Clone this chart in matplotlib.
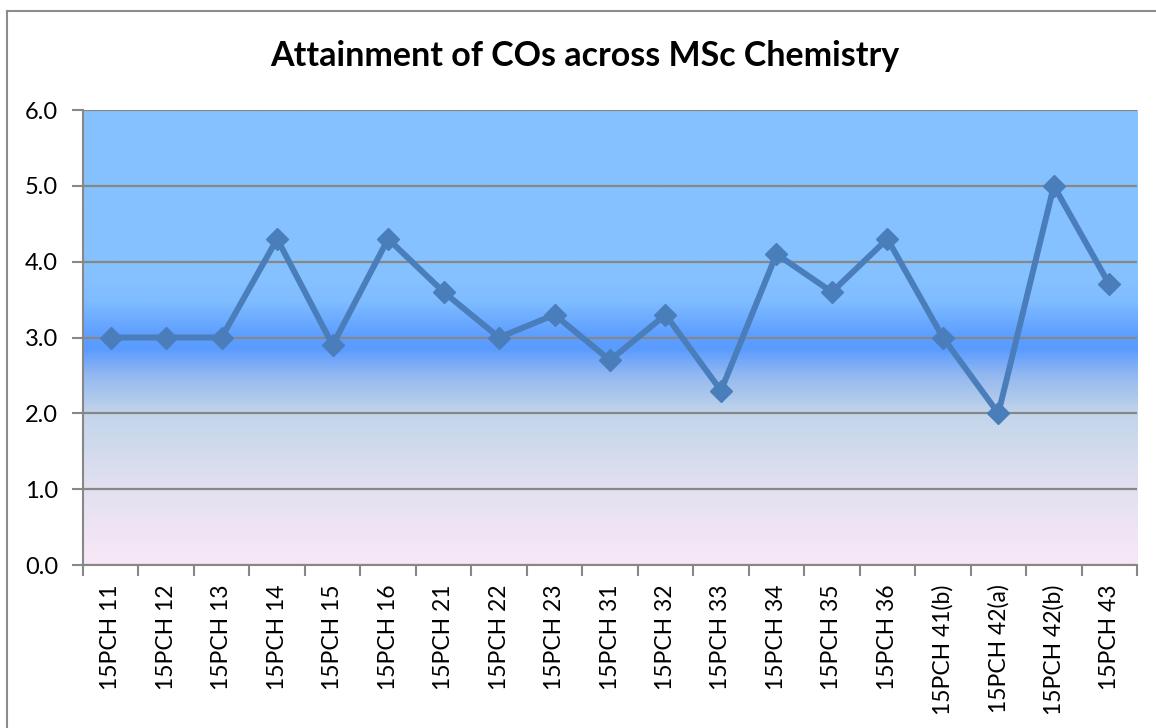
import numpy as np
import matplotlib
matplotlib.use("Agg")
import matplotlib.pyplot as plt
from matplotlib.colors import LinearSegmentedColormap
from matplotlib.lines import Line2D

categories = ["15PCH 11", "15PCH 12", "15PCH 13", "15PCH 14", "15PCH 15", "15PCH 16",
              "15PCH 21", "15PCH 22", "15PCH 23", "15PCH 31", "15PCH 32", "15PCH 33",
              "15PCH 34", "15PCH 35", "15PCH 36", "15PCH 41(b)", "15PCH 42(a)",
              "15PCH 42(b)", "15PCH 43"]
values = [3.0, 3.0, 3.0, 4.3, 2.9, 4.3, 3.6, 3.0, 3.3, 2.7, 3.3, 2.3, 4.1, 3.6, 4.3,
          3.0, 2.0, 5.0, 3.7]
yticks = [0.0, 1.0, 2.0, 3.0, 4.0, 5.0, 6.0]
title = "Attainment of COs across MSc Chemistry"

plt.rcParams['font.family'] = ['Lato', 'DejaVu Sans']

fig = plt.figure(figsize=(11.56, 7.28), dpi=100)
ax = fig.add_axes([0.0718, 0.2239, 0.9118, 0.625])

# gradient background
stops = [(0.0, "#f9e8f7"), (1.0 / 6, "#e2e0f0"), (2.0 / 6, "#c2d5ea"),
         (2.5 / 6, "#93b8f0"), (2.85 / 6, "#5a9bff"), (3.05 / 6, "#5f9fff"),
         (3.5 / 6, "#80bdff"), (3.8 / 6, "#86c1ff"), (1.0, "#86c1ff")]
cmap = LinearSegmentedColormap.from_list("bg", stops)
grad = np.linspace(0, 1, 600).reshape(-1, 1)
ax.imshow(grad, cmap=cmap, origin="lower", aspect="auto",
          extent=[-0.5, len(categories) - 0.5, 0, 6], zorder=0)

x = np.arange(len(categories))
ax.plot(x, values, color="#4a7ebb", lw=4.3, marker="D", markersize=11,
        markerfacecolor="#4a7ebb", markeredgecolor="#4a7ebb", zorder=3)

ax.set_xlim(-0.5, len(categories) - 0.5)
ax.set_ylim(0, 6)
ax.set_yticks(yticks)
ax.set_yticklabels([f"{v:.1f}" for v in yticks], fontsize=17)
ax.yaxis.grid(True, color="#878787", lw=1.6, zorder=1)
ax.set_axisbelow(False)

ax.set_xticks(x)
ax.set_xticklabels(categories, rotation=90, fontsize=16.5)
ax.set_xticks(np.arange(-0.5, len(categories), 1.0), minor=True)
ax.tick_params(axis="x", which="major", length=0, pad=14)
ax.tick_params(axis="x", which="minor", length=8, width=1.5, color="#878787")
ax.tick_params(axis="y", length=8, width=1.5, color="#878787", pad=10)

for s in ["top", "right"]:
    ax.spines[s].set_visible(False)
for s in ["left", "bottom"]:
    ax.spines[s].set_color("#878787")
    ax.spines[s].set_linewidth(1.5)

fig.text(585 / 1156, 1 - 66 / 728, title, ha="center", va="baseline",
         fontsize=24.5, fontweight="bold")

# outer chart border (partial, as in reference)
fig.add_artist(Line2D([7 / 1156, 7 / 1156], [0, 1 - 11 / 728], transform=fig.transFigure,
                      color="#8c8c8c", lw=1.5))
fig.add_artist(Line2D([7 / 1156, 1], [1 - 11 / 728, 1 - 11 / 728], transform=fig.transFigure,
                      color="#8c8c8c", lw=1.5))

fig.savefig("out.png", dpi=100)
